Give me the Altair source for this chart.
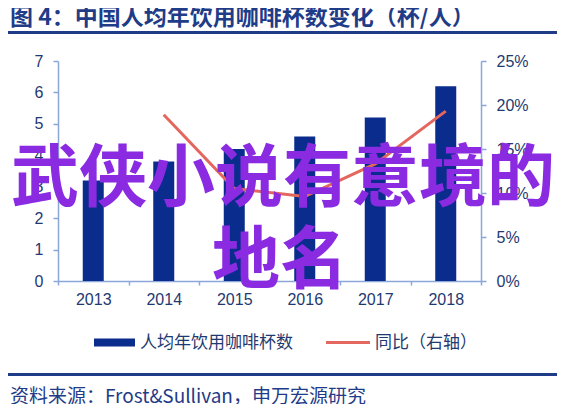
import altair as alt
import pandas as pd

years = ["2013", "2014", "2015", "2016", "2017", "2018"]
cups = [3.2, 3.8, 4.2, 4.6, 5.2, 6.2]
growth_years = ["2014", "2015", "2016", "2017", "2018"]
growth = [0.189, 0.105, 0.096, 0.133, 0.193]

title_text = "图 4：中国人均年饮用咖啡杯数变化（杯/人）"
bar_label = "人均年饮用咖啡杯数"
line_label = "同比（右轴）"
source_text = "资料来源：Frost&Sullivan，申万宏源研究"
wm1 = "武侠小说有意境的"
wm2 = "地名"

BAR = "#0A2C8C"
LINE = "#E3665F"
AXIS = "#8BA6D9"
LABEL = "#1F3A70"
NAVY = "#1F3C88"
PURPLE = "#8A2BE2"
CJK = "Noto Sans CJK SC"
LAT = "Liberation Sans"

bars_df = pd.DataFrame({"year": years, "cups": cups})
line_df = pd.DataFrame({"year": growth_years, "growth": growth})
one = pd.DataFrame({"k": [0]})

xenc = alt.X(
    "year:N",
    sort=years,
    scale=alt.Scale(domain=years, paddingInner=0, paddingOuter=0),
    axis=alt.Axis(
        title=None, labelAngle=0, tickBand="extent", tickSize=4,
        domainColor=AXIS, tickColor=AXIS, labelColor=LABEL,
        labelFont=LAT, labelFontSize=16, labelPadding=6,
        domainWidth=1.5, tickWidth=1.5,
    ),
)

bars = alt.Chart(bars_df).mark_bar(size=21, color=BAR).encode(
    x=xenc,
    y=alt.Y(
        "cups:Q",
        scale=alt.Scale(domain=[0, 7], nice=False),
        axis=alt.Axis(
            title=None, orient="left", values=[0, 1, 2, 3, 4, 5, 6, 7],
            grid=False, tickSize=5, domainColor=AXIS, tickColor=AXIS,
            labelColor=LABEL, labelFont=LAT, labelFontSize=16,
            labelPadding=10, domainWidth=1.5, tickWidth=1.5,
        ),
    ),
)

line = alt.Chart(line_df).mark_line(color=LINE, strokeWidth=3).encode(
    x=alt.X("year:N", sort=years),
    y=alt.Y(
        "growth:Q",
        scale=alt.Scale(domain=[0, 0.25], nice=False),
        axis=alt.Axis(
            title=None, orient="right", values=[0, 0.05, 0.1, 0.15, 0.2, 0.25],
            format=".0%", grid=False, tickSize=5, domainColor=AXIS,
            tickColor=AXIS, labelColor=LABEL, labelFont=LAT,
            labelFontSize=16, labelPadding=10, domainWidth=1.5, tickWidth=1.5,
        ),
    ),
)


def text_layer(txt, x, y, size, color, font=CJK, weight="normal", align="left"):
    return alt.Chart(one).mark_text(
        align=align, baseline="middle", fontSize=size, color=color,
        font=font, fontWeight=weight,
    ).encode(x=alt.value(x), y=alt.value(y), text=alt.value(txt))


def rule_layer(x1, x2, y, color, width):
    return alt.Chart(one).mark_rule(color=color, strokeWidth=width).encode(
        x=alt.value(x1), x2=alt.value(x2), y=alt.value(y)
    )


title = text_layer(title_text, -48, -43, 23, NAVY, weight="bold")
title_rule = rule_layer(-50, 499, -28.5, NAVY, 3)
leg_bar = rule_layer(36, 77, 281.5, BAR, 8)
leg_bar_text = text_layer(bar_label, 82, 281.5, 17, LABEL)
leg_line = rule_layer(268, 312, 281.5, LINE, 3)
leg_line_text = text_layer(line_label, 317, 281.5, 17, LABEL)
foot_rule = rule_layer(-50, 499, 313.5, NAVY, 3)
source = text_layer(source_text, -48, 336, 19, NAVY)
water1 = text_layer(wm1, 225, 120, 68, PURPLE, weight="bold", align="center")
water2 = text_layer(wm2, 222, 202, 68, PURPLE, weight="bold", align="center")

chart = (
    alt.layer(bars, line)
    .resolve_scale(y="independent")
)

chart = alt.layer(
    chart, title, title_rule, leg_bar, leg_bar_text, leg_line,
    leg_line_text, foot_rule, source, water1, water2,
).properties(
    width=423,
    height=220,
    autosize=alt.AutoSizeParams(type="none"),
    padding={"left": 50, "top": 53, "right": 77, "bottom": 123},
    background="white",
).configure_view(stroke=None)

chart.save("out.html", embed_options={"renderer": "svg", "actions": False})
